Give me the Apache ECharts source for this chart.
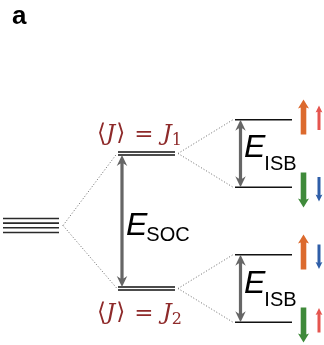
<!DOCTYPE html>
<html>
<head>
<meta charset="utf-8">
<script src="https://cdn.jsdelivr.net/npm/echarts@6/dist/echarts.min.js"></script>
<style>
  html, body { margin: 0; padding: 0; background: #fff; }
  #chart { width: 324px; height: 345px; }
</style>
</head>
<body>
<div id="chart"></div>
<script>
// Energies in units of the inversion-symmetry-breaking splitting E_ISB
const groundLevel = [0];                         // four-fold degenerate manifold
const socLevels = [1.067, -0.933];               // <J> = J1 (upper), <J> = J2 (lower)
const socIndices = ['1', '2'];
const isbLevels = [1.567, 0.567, -0.433, -1.433]; // each SOC level split by E_ISB
const spinMajor = [1, -1, 1, -1];                // large spin arrows: +1 up, -1 down
const spinMinor = [1, -1, -1, 1];                // small spin arrows

// Horizontal layout of the three columns (x axis runs 0..324)
const colGround = [3, 59];
const colSoc = [118, 175];
const colIsb = [235, 292];
const spinX = [303.5, 319];

const GRAY = '#666666';
const LABEL_RED = '#8e2a2a';
const SPIN_COLORS = {
  major: { up: '#dc6a2e', down: '#3f8a3a' },
  minor: { up: '#e5554f', down: '#2f5ea8' }
};

const measureCtx = document.createElement('canvas').getContext('2d');
function textWidth(str, font) {
  measureCtx.font = font;
  return measureCtx.measureText(str).width;
}

// Level lines: [x0, x1, energy, number of stacked lines, gap px]
const levelData = [];
groundLevel.forEach(e => levelData.push([colGround[0], colGround[1], e, 4, 4.65]));
socLevels.forEach(e => levelData.push([colSoc[0], colSoc[1], e, 2, 3]));
isbLevels.forEach(e => levelData.push([colIsb[0], colIsb[1], e, 1, 0]));

// Dotted connectors between levels: [xa, ea, xb, eb]
const connectorData = [];
socLevels.forEach(e => connectorData.push([colGround[1] + 4, groundLevel[0], colSoc[0] - 1, e]));
socLevels.forEach((e, i) => {
  connectorData.push([colSoc[1] + 3, e, colIsb[0] - 2, isbLevels[2 * i]]);
  connectorData.push([colSoc[1] + 3, e, colIsb[0] - 2, isbLevels[2 * i + 1]]);
});

// Double-headed gap arrows: [x, e_top, e_bottom, tip inset px]
const gapArrowData = [
  [122, socLevels[0], socLevels[1], 1.6],
  [240.5, isbLevels[0], isbLevels[1], 0],
  [240.5, isbLevels[2], isbLevels[3], 0]
];

// Spin arrows: [x, energy, direction, kind(0 major / 1 minor)]
const spinData = [];
isbLevels.forEach((e, i) => {
  spinData.push([spinX[0], e, spinMajor[i], 0]);
  spinData.push([spinX[1], e, spinMinor[i], 1]);
});

function vArrow(x, yTail, yTip, sw, hw, hl, notch, headAtTail) {
  const d = yTip > yTail ? 1 : -1;
  const pts = [];
  if (headAtTail) {
    pts.push([x, yTail]);
    pts.push([x + hw / 2, yTail + d * hl]);
    pts.push([x + sw / 2, yTail + d * (hl - notch)]);
  } else {
    pts.push([x + sw / 2, yTail]);
  }
  pts.push([x + sw / 2, yTip - d * (hl - notch)]);
  pts.push([x + hw / 2, yTip - d * hl]);
  pts.push([x, yTip]);
  pts.push([x - hw / 2, yTip - d * hl]);
  pts.push([x - sw / 2, yTip - d * (hl - notch)]);
  if (headAtTail) {
    pts.push([x - sw / 2, yTail + d * (hl - notch)]);
    pts.push([x - hw / 2, yTail + d * hl]);
  } else {
    pts.push([x - sw / 2, yTail]);
  }
  return pts;
}

const SERIF = '"DejaVu Serif", "Liberation Serif", serif';
const SANS = '"Liberation Sans", Arial, sans-serif';

function bracketLabel(api, level, idx, dy) {
  const c = api.coord([(colSoc[0] + colSoc[1]) / 2 - 7, level]);
  const fs = 23;
  const parts = [
    { t: '\u27E8', font: `${fs}px ${SERIF}`, dy: 0, gap: 0 },
    { t: 'J', font: `italic ${fs}px ${SERIF}`, dy: 0, gap: 1 },
    { t: '\u27E9', font: `${fs}px ${SERIF}`, dy: 0, gap: 9 },
    { t: '=', font: `${fs}px ${SERIF}`, dy: 1, gap: 9 },
    { t: 'J', font: `italic ${fs}px ${SERIF}`, dy: 0, gap: 0 },
    { t: idx, font: `${Math.round(fs * 0.7)}px ${SERIF}`, dy: 6, gap: 0 }
  ];
  let total = 0;
  parts.forEach(p => { p.w = textWidth(p.t, p.font); total += p.w + p.gap; });
  let x = c[0] - total / 2;
  const out = [];
  parts.forEach(p => {
    out.push({
      type: 'text',
      style: { text: p.t, x: x, y: c[1] + dy + p.dy, font: p.font, fill: LABEL_RED,
               align: 'left', verticalAlign: 'middle' }
    });
    x += p.w + p.gap;
  });
  return out;
}

function energyLabel(api, xLeft, level, dyE, sub, dySub) {
  const c = api.coord([xLeft, level]);
  const eFont = `italic 32px ${SANS}`;
  const sFont = `20px ${SANS}`;
  const w = textWidth('E', eFont);
  return [
    { type: 'text', style: { text: 'E', x: c[0], y: c[1] + dyE, font: eFont, fill: '#000',
                             align: 'left', verticalAlign: 'middle' } },
    { type: 'text', style: { text: sub, x: c[0] + w - 1, y: c[1] + dySub, font: sFont, fill: '#000',
                             align: 'left', verticalAlign: 'middle' } }
  ];
}

const chart = echarts.init(document.getElementById('chart'), null, { renderer: 'canvas' });

chart.setOption({
  animation: false,
  backgroundColor: '#ffffff',
  title: {
    text: 'a', left: 7, top: -1,
    textStyle: { fontSize: 26, fontWeight: 'bold', fontFamily: SANS, color: '#000' }
  },
  grid: { left: 0, right: 0, top: 0, bottom: 0 },
  xAxis: { type: 'value', min: 0, max: 324, show: false },
  yAxis: { type: 'value', min: -1.77, max: 3.34, show: false },
  series: [
    {
      type: 'custom', name: 'connectors', data: connectorData,
      renderItem: (params, api) => {
        const a = api.coord([api.value(0), api.value(1)]);
        const b = api.coord([api.value(2), api.value(3)]);
        return { type: 'line', shape: { x1: a[0], y1: a[1], x2: b[0], y2: b[1] },
                 style: { stroke: '#6a6a6a', lineWidth: 1, lineDash: [1, 2] } };
      }
    },
    {
      type: 'custom', name: 'levels', data: levelData,
      renderItem: (params, api) => {
        const a = api.coord([api.value(0), api.value(2)]);
        const b = api.coord([api.value(1), api.value(2)]);
        const n = api.value(3), gap = api.value(4);
        const children = [];
        for (let i = 0; i < n; i++) {
          const off = (i - (n - 1) / 2) * gap;
          children.push({ type: 'line',
            shape: { x1: a[0], y1: a[1] + off, x2: b[0], y2: b[1] + off },
            style: { stroke: n === 4 ? '#2a2a2a' : '#111', lineWidth: 1.6 } });
        }
        return { type: 'group', children };
      }
    },
    {
      type: 'custom', name: 'gaps', data: gapArrowData,
      renderItem: (params, api) => {
        const x = api.coord([api.value(0), 0])[0];
        const inset = api.value(3);
        const y1 = api.coord([0, api.value(1)])[1] + inset;
        const y2 = api.coord([0, api.value(2)])[1] - inset;
        return { type: 'polygon', shape: { points: vArrow(x, y1, y2, 3.2, 10.5, 11, 2.5, true) },
                 style: { fill: GRAY } };
      }
    },
    {
      type: 'custom', name: 'spins', data: spinData,
      renderItem: (params, api) => {
        const p = api.coord([api.value(0), api.value(1)]);
        const dir = api.value(2);
        const major = api.value(3) === 0;
        const len = major ? 35 : 24.5;
        const shift = major ? 2.7 : 2;
        const yc = p[1] - dir * shift;
        const yTail = yc + dir * len / 2, yTip = yc - dir * len / 2;
        const pal = major ? SPIN_COLORS.major : SPIN_COLORS.minor;
        const pts = major ? vArrow(p[0], yTail, yTip, 5.6, 11, 9, 1, false)
                          : vArrow(p[0], yTail, yTip, 3, 6.8, 7, 0.8, false);
        return { type: 'polygon', shape: { points: pts },
                 style: { fill: dir > 0 ? pal.up : pal.down } };
      }
    },
    {
      type: 'custom', name: 'labels', data: [[0]],
      renderItem: (params, api) => {
        const children = [];
        children.push(...bracketLabel(api, socLevels[0], socIndices[0], -19));
        children.push(...bracketLabel(api, socLevels[1], socIndices[1], 25));
        const mid = (socLevels[0] + socLevels[1]) / 2;
        children.push(...energyLabel(api, 126, mid, 5, 'SOC', 15));
        children.push(...energyLabel(api, 244, socLevels[0], -5, 'ISB', 11));
        children.push(...energyLabel(api, 244, socLevels[1], -4, 'ISB', 11.5));
        return { type: 'group', children };
      }
    }
  ]
});
</script>
</body>
</html>
